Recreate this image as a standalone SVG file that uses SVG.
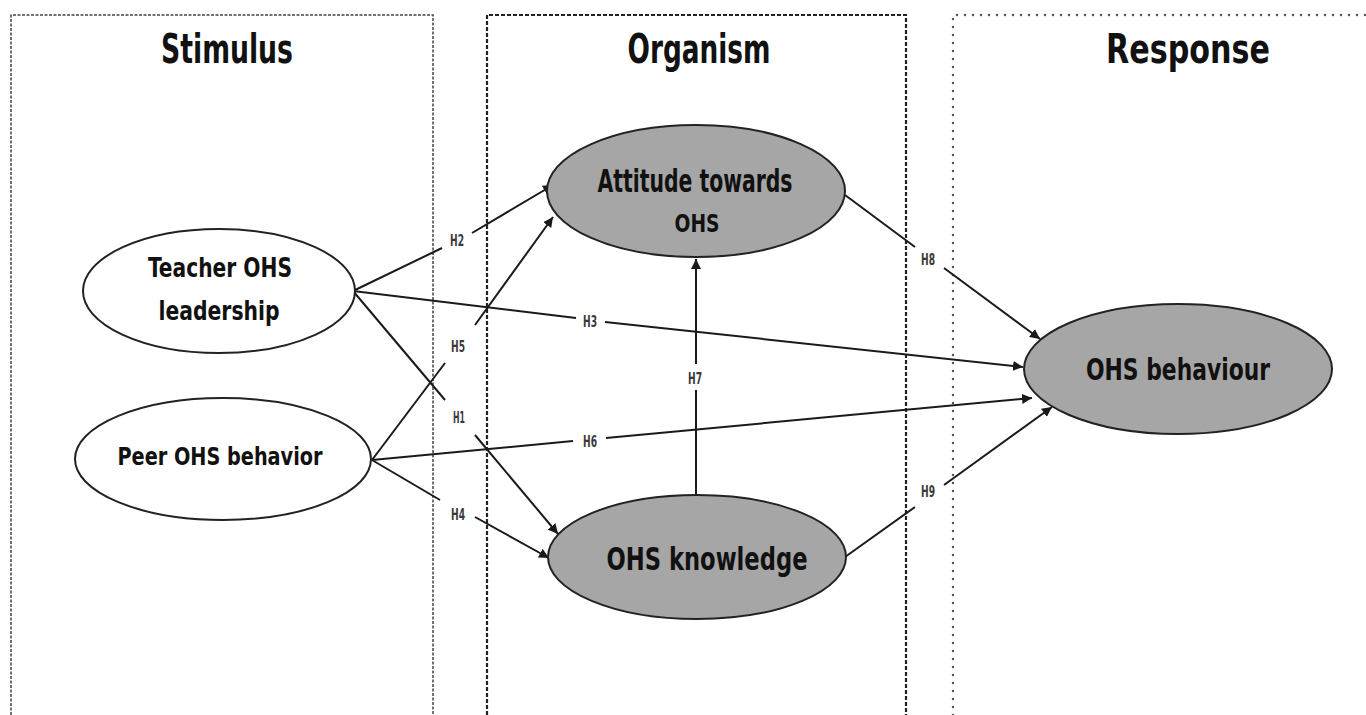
<svg xmlns="http://www.w3.org/2000/svg" width="1366" height="715" viewBox="0 0 1366 715">
<style>
.title{font-family:"Liberation Sans Narrow","DejaVu Sans Condensed","Liberation Sans",sans-serif;font-stretch:condensed;font-weight:bold;fill:#111;text-anchor:middle}
.nt{font-family:"Liberation Sans Narrow","DejaVu Sans Condensed","Liberation Sans",sans-serif;font-stretch:condensed;font-weight:bold;fill:#111;text-anchor:middle}
.lbl{font-family:"Liberation Sans Narrow","DejaVu Sans Condensed","Liberation Sans",sans-serif;font-stretch:condensed;font-size:16px;font-weight:bold;fill:#3a3a3a;text-anchor:middle}
.white{fill:#fff;stroke:#222;stroke-width:2}
.gray{fill:#a6a6a6;stroke:#222;stroke-width:2}
.con{fill:none;stroke:#1a1a1a;stroke-width:2}
</style>
<defs>
<marker id="arr" viewBox="0 0 10 10" refX="10" refY="5" markerWidth="5" markerHeight="5" markerUnits="strokeWidth" orient="auto">
<path d="M0,0 L10,5 L0,10 z" fill="#1a1a1a"/>
</marker>
</defs>
<rect width="1366" height="715" fill="#fff"/>
<g id="panels">
<path d="M11,715 V15 H433 V715" fill="none" stroke="#444" stroke-width="1.5" stroke-dasharray="3 1.5"/>
<path d="M487,715 V15 H906 V715" fill="none" stroke="#222" stroke-width="2.2" stroke-dasharray="4 2"/>
<path d="M953,715 V15 H1370" fill="none" stroke="#555" stroke-width="2.5" stroke-linecap="round" stroke-dasharray="0 8"/>
<text class="title" x="227" y="63" font-size="40" textLength="132" lengthAdjust="spacingAndGlyphs">Stimulus</text>
<text class="title" x="699" y="63" font-size="40" textLength="143" lengthAdjust="spacingAndGlyphs">Organism</text>
<text class="title" x="1188" y="63" font-size="40" textLength="164" lengthAdjust="spacingAndGlyphs">Response</text>
</g>
<g id="connectors">
<path class="con" d="M353,291 L442,248"/>
<path class="con" d="M472,233 L553,185" marker-end="url(#arr)"/>
<path class="con" d="M353,291 L576,318"/>
<path class="con" d="M605,322 L1023,367" marker-end="url(#arr)"/>
<path class="con" d="M353,291 L445,400"/>
<path class="con" d="M475,435 L558,534" marker-end="url(#arr)"/>
<path class="con" d="M372,460 L445,363"/>
<path class="con" d="M475,325 L553,217" marker-end="url(#arr)"/>
<path class="con" d="M372,460 L573,441"/>
<path class="con" d="M606,438 L1032,398" marker-end="url(#arr)"/>
<path class="con" d="M372,460 L440,500"/>
<path class="con" d="M475,517 L549,558" marker-end="url(#arr)"/>
<path class="con" d="M696,495 L696,390"/>
<path class="con" d="M696,364 L696,259" marker-end="url(#arr)"/>
<path class="con" d="M845,195 L915,247"/>
<path class="con" d="M944,268 L1040,339" marker-end="url(#arr)"/>
<path class="con" d="M845,557 L915,507"/>
<path class="con" d="M944,485 L1052,407" marker-end="url(#arr)"/>
<text class="lbl" x="457" y="246" textLength="14" lengthAdjust="spacingAndGlyphs">H2</text>
<text class="lbl" x="590" y="327" textLength="14" lengthAdjust="spacingAndGlyphs">H3</text>
<text class="lbl" x="458" y="352" textLength="14" lengthAdjust="spacingAndGlyphs">H5</text>
<text class="lbl" x="459" y="423" textLength="12" lengthAdjust="spacingAndGlyphs">H1</text>
<text class="lbl" x="590" y="447" textLength="14" lengthAdjust="spacingAndGlyphs">H6</text>
<text class="lbl" x="458" y="520" textLength="14" lengthAdjust="spacingAndGlyphs">H4</text>
<text class="lbl" x="695" y="384" textLength="14" lengthAdjust="spacingAndGlyphs">H7</text>
<text class="lbl" x="928" y="265" textLength="14" lengthAdjust="spacingAndGlyphs">H8</text>
<text class="lbl" x="928" y="497" textLength="14" lengthAdjust="spacingAndGlyphs">H9</text>
</g>
<g id="teacher">
<ellipse class="white" cx="219" cy="291" rx="136" ry="62"/>
<text class="nt" x="220" y="277" font-size="26" textLength="144" lengthAdjust="spacingAndGlyphs">Teacher OHS</text>
<text class="nt" x="219" y="320" font-size="26" textLength="121" lengthAdjust="spacingAndGlyphs">leadership</text>
</g>
<g id="peer">
<ellipse class="white" cx="223" cy="459" rx="148" ry="61"/>
<text class="nt" x="220" y="465" font-size="24" textLength="205" lengthAdjust="spacingAndGlyphs">Peer OHS behavior</text>
</g>
<g id="attitude">
<ellipse class="gray" cx="696" cy="191" rx="149" ry="66"/>
<text class="nt" x="695" y="192" font-size="32" textLength="195" lengthAdjust="spacingAndGlyphs">Attitude towards</text>
<text class="nt" x="697" y="232" font-size="24" textLength="45" lengthAdjust="spacingAndGlyphs">OHS</text>
</g>
<g id="knowledge">
<ellipse class="gray" cx="697" cy="557" rx="149" ry="62"/>
<text class="nt" x="707" y="570" font-size="32" textLength="201" lengthAdjust="spacingAndGlyphs">OHS knowledge</text>
</g>
<g id="behaviour">
<ellipse class="gray" cx="1178" cy="369" rx="154" ry="65"/>
<text class="nt" x="1178" y="380" font-size="30" textLength="184" lengthAdjust="spacingAndGlyphs">OHS behaviour</text>
</g>
</svg>
